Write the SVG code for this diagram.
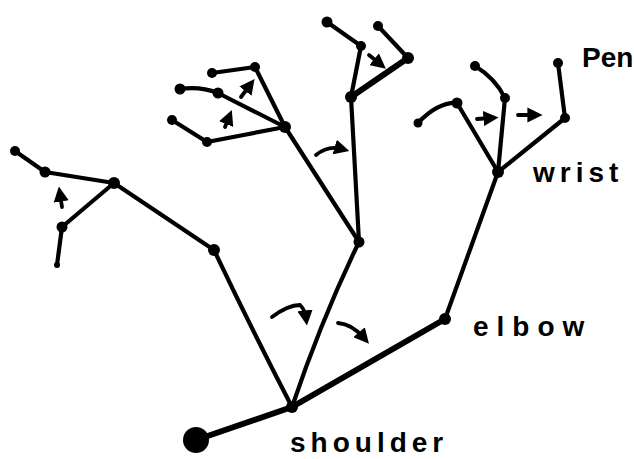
<svg xmlns="http://www.w3.org/2000/svg" width="634" height="459" viewBox="0 0 634 459">
<defs>
<style>
.e{stroke:#000;stroke-width:4.2;fill:none;stroke-linecap:round;stroke-linejoin:round}
.t{stroke-width:6}
.a{stroke:#000;stroke-width:3.8;fill:none;stroke-linecap:round}
.n{fill:#000}
.lb{font-family:"Liberation Sans","DejaVu Sans",sans-serif;font-size:28px;font-weight:bold;fill:#000}
</style>
<marker id="ah" viewBox="0 0 10 10" refX="5" refY="5" markerWidth="4" markerHeight="4" orient="auto" markerUnits="strokeWidth">
<path d="M0,0 L10,5 L0,10 Z" fill="#000"/>
</marker>
</defs>
<rect width="634" height="459" fill="#fff"/>
<g id="connectors">
<line class="e t" x1="196" y1="440" x2="292" y2="407"/>
<line class="e t" x1="292" y1="407" x2="445" y2="319"/>
<line class="e" x1="445" y1="319" x2="498" y2="172"/>
<line class="e" x1="498" y1="172" x2="457" y2="103"/>
<path class="e" d="M457,103 Q438,102 418,123"/>
<line class="e" x1="498" y1="172" x2="505" y2="98"/>
<path class="e" d="M505,98 Q495,78 475,66"/>
<line class="e" x1="498" y1="172" x2="565" y2="118"/>
<line class="e" x1="565" y1="118" x2="558" y2="63"/>
<path class="e" d="M292,407 Q322,318 359,242"/>
<line class="e" x1="359" y1="242" x2="351" y2="97"/>
<line class="e" x1="351" y1="97" x2="361" y2="46"/>
<line class="e" x1="361" y1="46" x2="327" y2="22"/>
<line class="e t" x1="351" y1="97" x2="408" y2="58"/>
<line class="e" x1="408" y1="58" x2="378" y2="26"/>
<line class="e" x1="359" y1="242" x2="285" y2="127"/>
<line class="e" x1="285" y1="127" x2="255" y2="67"/>
<line class="e" x1="255" y1="67" x2="212" y2="73"/>
<line class="e" x1="285" y1="127" x2="218" y2="93"/>
<path class="e" d="M218,93 Q200,86 180,89"/>
<line class="e" x1="285" y1="127" x2="207" y2="142"/>
<line class="e" x1="207" y1="142" x2="172" y2="120"/>
<path class="e" d="M292,407 Q252,330 214,250"/>
<line class="e" x1="214" y1="250" x2="114" y2="183"/>
<line class="e" x1="114" y1="183" x2="45" y2="172"/>
<line class="e" x1="45" y1="172" x2="15" y2="151"/>
<line class="e" x1="114" y1="183" x2="62" y2="227"/>
<line class="e" x1="62" y1="227" x2="57" y2="265"/>
</g>
<g id="arrows">
<path class="a" d="M62,207 L60,194" marker-end="url(#ah)"/>
<path class="a" d="M225,127 L229,117" marker-end="url(#ah)"/>
<path class="a" d="M241,97 L250,85" marker-end="url(#ah)"/>
<path class="a" d="M369,55 L380,64" marker-end="url(#ah)"/>
<path class="a" d="M316,155 Q328,145 342,149" marker-end="url(#ah)"/>
<path class="a" d="M477,119 L491,118" marker-end="url(#ah)"/>
<path class="a" d="M518,115 L535,115" marker-end="url(#ah)"/>
<path class="a" d="M272,317 Q288,305 300,305 Q305,310 306,318" marker-end="url(#ah)"/>
<path class="a" d="M338,323 Q352,324 364,338" marker-end="url(#ah)"/>
</g>
<g id="base"><circle class="n" cx="196" cy="440" r="13"/></g>
<g id="shoulder"><circle class="n" cx="292" cy="407" r="6"/><text class="lb" x="290" y="452" letter-spacing="5">shoulder</text></g>
<g id="elbow"><circle class="n" cx="445" cy="319" r="6"/><text class="lb" x="473" y="336" letter-spacing="8">elbow</text></g>
<g id="wrist"><circle class="n" cx="498" cy="172" r="6"/><text class="lb" x="533" y="182" letter-spacing="5">wrist</text></g>
<g id="w1"><circle class="n" cx="457" cy="103" r="5.5"/></g>
<g id="w1a"><circle class="n" cx="418" cy="123" r="4.5"/></g>
<g id="w2"><circle class="n" cx="505" cy="98" r="5"/></g>
<g id="w2a"><circle class="n" cx="475" cy="66" r="5"/></g>
<g id="w3"><circle class="n" cx="565" cy="118" r="5"/></g>
<g id="pen"><circle class="n" cx="558" cy="63" r="5"/><text class="lb" x="582" y="67" font-size="24">Pen</text></g>
<g id="u1"><circle class="n" cx="359" cy="242" r="5.5"/></g>
<g id="u2"><circle class="n" cx="351" cy="97" r="6"/></g>
<g id="u2a"><circle class="n" cx="361" cy="46" r="5"/></g>
<g id="u2a1"><circle class="n" cx="327" cy="22" r="5.5"/></g>
<g id="u2b"><circle class="n" cx="408" cy="58" r="6"/></g>
<g id="u2b1"><circle class="n" cx="378" cy="26" r="5"/></g>
<g id="hub"><circle class="n" cx="285" cy="127" r="6"/></g>
<g id="h1"><circle class="n" cx="255" cy="67" r="5"/></g>
<g id="h1a"><circle class="n" cx="212" cy="73" r="5"/></g>
<g id="h2"><circle class="n" cx="218" cy="93" r="5.5"/></g>
<g id="h2a"><circle class="n" cx="180" cy="89" r="5.5"/></g>
<g id="h3"><circle class="n" cx="207" cy="142" r="5"/></g>
<g id="h3a"><circle class="n" cx="172" cy="120" r="5"/></g>
<g id="l1"><circle class="n" cx="214" cy="250" r="6"/></g>
<g id="l2"><circle class="n" cx="114" cy="183" r="6"/></g>
<g id="l2a"><circle class="n" cx="45" cy="172" r="5.5"/></g>
<g id="l2a1"><circle class="n" cx="15" cy="151" r="5"/></g>
<g id="l2b"><circle class="n" cx="62" cy="227" r="5.5"/></g>
<g id="l2b1"><circle class="n" cx="57" cy="265" r="3"/></g>
</svg>
